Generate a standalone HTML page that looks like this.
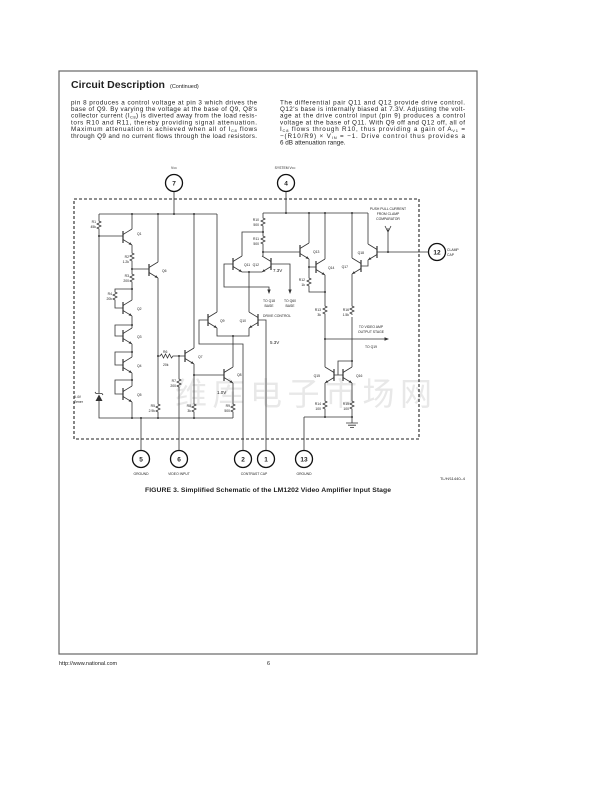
<!DOCTYPE html>
<html><head><meta charset="utf-8"><style>
html,body{margin:0;padding:0;background:#fff}
svg{display:block}
.t{font-family:"Liberation Sans",sans-serif;fill:#222}
.s{font-family:"Liberation Sans",sans-serif;font-size:3.4px;fill:#222}
.w{fill:none;stroke:#333;stroke-width:0.8}
.d{fill:#333}
</style></head><body>
<svg width="612" height="792" viewBox="0 0 612 792" xmlns="http://www.w3.org/2000/svg">
<defs>
<g id="npn" fill="none" stroke="#333" stroke-width="0.8">
<line x1="0" y1="-6" x2="0" y2="6" stroke-width="1.2"/>
<line x1="0" y1="-2.5" x2="9" y2="-8"/>
<line x1="0" y1="2.5" x2="9" y2="8"/>
<path d="M9,8 L5.6,7.4 L7.2,5.2 Z" fill="#333" stroke="none"/>
</g>
<path id="rv" d="M0,0 l0,1 l2,1 l-4,2 l4,2 l-4,2 l2,1 l0,1" fill="none" stroke="#333" stroke-width="0.8"/>
</defs>
<rect x="59" y="71" width="418" height="583" fill="none" stroke="#666" stroke-width="1.2"/>
<text class="t" x="71" y="88" font-size="10.5" font-weight="bold">Circuit Description</text>
<text class="t" x="170" y="88" font-size="5.5">(Continued)</text>
<g class="t" font-size="6.3">
<text x="71" y="104.3" textLength="186" lengthAdjust="spacing">pin 8 produces a control voltage at pin 3 which drives the</text>
<text x="71" y="111" textLength="186" lengthAdjust="spacing">base of Q9. By varying the voltage at the base of Q9, Q8's</text>
<text x="71" y="117.7" textLength="186" lengthAdjust="spacing">collector current (I<tspan font-size="4" dy="1">C8</tspan><tspan dy="-1">) is diverted away from the load resis-</tspan></text>
<text x="71" y="124.4" textLength="186" lengthAdjust="spacing">tors R10 and R11, thereby providing signal attenuation.</text>
<text x="71" y="131.1" textLength="186" lengthAdjust="spacing">Maximum attenuation is achieved when all of I<tspan font-size="4" dy="1">C8</tspan><tspan dy="-1"> flows</tspan></text>
<text x="71" y="137.8" textLength="186" lengthAdjust="spacing">through Q9 and no current flows through the load resistors.</text>
<text x="280" y="104.3" textLength="185" lengthAdjust="spacing">The differential pair Q11 and Q12 provide drive control.</text>
<text x="280" y="111" textLength="185" lengthAdjust="spacing">Q12's base is internally biased at 7.3V. Adjusting the volt-</text>
<text x="280" y="117.7" textLength="185" lengthAdjust="spacing">age at the drive control input (pin 9) produces a control</text>
<text x="280" y="124.4" textLength="185" lengthAdjust="spacing">voltage at the base of Q11. With Q9 off and Q12 off, all of</text>
<text x="280" y="131.1" textLength="185" lengthAdjust="spacing">I<tspan font-size="4" dy="1">C8</tspan><tspan dy="-1"> flows through R10, thus providing a gain of A</tspan><tspan font-size="4" dy="1">V1</tspan><tspan dy="-1"> =</tspan></text>
<text x="280" y="137.8" textLength="185" lengthAdjust="spacing">−(R10/R9) × V<tspan font-size="4" dy="1">IN</tspan><tspan dy="-1"> = −1. Drive control thus provides a</tspan></text>
<text x="280" y="144.5">6 dB attenuation range.</text>
</g>
<text x="175" y="405" font-family="'Noto Sans CJK SC',sans-serif" font-size="32" fill="#e8e8e8" textLength="257" lengthAdjust="spacing">维库电子市场网</text>
<rect x="74" y="199" width="345" height="240" fill="none" stroke="#222" stroke-width="1.1" stroke-dasharray="3,2"/>
<g fill="#fff" stroke="#111" stroke-width="1.3">
<circle cx="174" cy="183" r="8.5"/><circle cx="286" cy="183" r="8.5"/>
<circle cx="437" cy="252" r="8.5"/>
<circle cx="141" cy="459" r="8.5"/><circle cx="179" cy="459" r="8.5"/>
<circle cx="243" cy="459" r="8.5"/><circle cx="266" cy="459" r="8.5"/>
<circle cx="304" cy="459" r="8.5"/>
</g>
<g class="t" font-size="6.5" font-weight="bold" text-anchor="middle">
<text x="174" y="185.5">7</text><text x="286" y="185.5">4</text><text x="437" y="254.5">12</text>
<text x="141" y="461.5">5</text><text x="179" y="461.5">6</text><text x="243" y="461.5">2</text>
<text x="266" y="461.5">1</text><text x="304" y="461.5">13</text>
</g>
<g class="s" text-anchor="middle">
<text x="174" y="169">V<tspan font-size="2.5">CC</tspan></text>
<text x="285" y="169">SYSTEM V<tspan font-size="2.5">CC</tspan></text>
<text x="141" y="475">GROUND</text><text x="179" y="475">VIDEO INPUT</text>
<text x="254" y="475">CONTRAST CAP</text><text x="304" y="475">GROUND</text>
<text x="388" y="210">PUSH PULL CURRENT</text><text x="388" y="215">FROM CLAMP</text><text x="388" y="220">COMPARATOR</text>
<text x="269" y="302">TO Q18</text><text x="269" y="307">BASE</text>
<text x="290" y="302">TO Q60</text><text x="290" y="307">BASE</text>
<text x="277" y="317">DRIVE CONTROL</text>
<text x="371" y="328">TO VIDEO AMP</text><text x="371" y="333">OUTPUT STAGE</text>
<text x="371" y="348">TO Q19</text>
</g>
<g class="s" text-anchor="start">
<text x="447" y="251">CLAMP</text><text x="447" y="256">CAP</text>
<text x="270" y="344" font-size="4.5">5.3V</text>
<text x="273" y="272" font-size="4.5">7.3V</text>
<text x="217" y="394" font-size="4.5">1.0V</text>
<text x="137" y="235">Q1</text><text x="137" y="310">Q2</text><text x="137" y="338">Q3</text>
<text x="137" y="367">Q4</text><text x="137" y="396">Q5</text><text x="162" y="272">Q6</text>
<text x="198" y="358">Q7</text><text x="237" y="376">Q8</text><text x="220" y="322">Q9</text>
<text x="244" y="266">Q11</text><text x="313" y="253">Q13</text><text x="328" y="269">Q14</text>
<text x="356" y="377">Q16</text>
<text x="74" y="398">5.4V</text><text x="74" y="403">Zener</text>
<text x="163" y="353">R6</text><text x="163" y="366">20k</text>
</g>
<g class="s" text-anchor="end">
<text x="96" y="223">R1</text><text x="96" y="228">45k</text>
<text x="129" y="258">R2</text><text x="129" y="263">1.2k</text>
<text x="129" y="277">R3</text><text x="129" y="282">200</text>
<text x="112" y="295">R4</text><text x="112" y="300">20k</text>
<text x="155" y="407">R5</text><text x="155" y="412">2.9k</text>
<text x="176" y="382">R7</text><text x="176" y="387">200</text>
<text x="191" y="407">R8</text><text x="191" y="412">3k</text>
<text x="230" y="407">R9</text><text x="230" y="412">500</text>
<text x="246" y="322">Q10</text><text x="259" y="266">Q12</text>
<text x="259" y="221">R10</text><text x="259" y="226">500</text>
<text x="259" y="240">R11</text><text x="259" y="245">500</text>
<text x="305" y="281">R12</text><text x="305" y="286">1k</text>
<text x="321" y="311">R13</text><text x="321" y="316">3k</text>
<text x="349" y="311">R16</text><text x="349" y="316">1.5k</text>
<text x="321" y="405">R14</text><text x="321" y="410">100</text>
<text x="349" y="405">R15</text><text x="349" y="410">100</text>
<text x="320" y="377">Q15</text><text x="348" y="268">Q17</text><text x="364" y="254">Q18</text>
</g>
<g class="w">
<path d="M99,214 H217 M174,192 V214"/>
<path d="M99,214 V220 M99,230 V393 M99,401 V418 H233"/>
<path d="M99,236 H123"/>
<path d="M132,229 V214 M132,245 V252 M132,262 V273 M132,283 V300"/>
<path d="M132,269 H149"/>
<path d="M132,289 H115 V291 M115,301 V308 H123"/>
<path d="M132,316 V328 M132,325 H115 V336 H123"/>
<path d="M132,344 V357 M132,352 H115 V365 H123"/>
<path d="M132,373 V386 M132,380 H115 V394 H123 M132,402 V418"/>
<path d="M158,262 V214 M158,278 V403 M158,413 V418"/>
<path d="M158,356 H160 L161.5,354 L163.5,358 L165.5,354 L167.5,358 L169.5,354 L171.5,358 L173,356 H185 M179,356 V378 M179,388 V450"/>
<path d="M194,348 V214 M194,364 V403 M194,413 V418 M194,375 H224"/>
<path d="M233,367 V336 M233,383 V403 M233,413 V418"/>
<path d="M217,312 V214 M217,328 V336 H249 V328 M249,312 V272"/>
<path d="M208,320 H199 V344 H243 V450 M258,320 H266 V450"/>
<path d="M141,418 V450"/>
<path d="M263,213 H368 M286,192 V213"/>
<path d="M263,213 V217 M263,227 V235 M263,245 V256 M263,232 H242 V256 M263,252 H300"/>
<path d="M242,272 H262 M233,264 H224 V287 H269 V290 M271,264 H290 V290"/>
<path d="M309,243 V213 M309,259 V277 M309,287 V292 H325 M309,267 H316"/>
<path d="M325,259 V213 M325,275 V305 M325,315 V367 M325,339 H386"/>
<path d="M325,383 V400 M325,410 V417 M304,417 H352 M304,417 V450"/>
<path d="M334,375 H343 M338,375 V361 H352"/>
<path d="M352,367 V317 M352,305 V274 M352,258 V213 M352,383 V400 M352,410 V423"/>
<path d="M346,423 H358 M348,425.2 H356 M350,427.4 H354"/>
<path d="M368,244 V213 M368,260 V266 H361"/>
<path d="M377,252 H428.5 M388,252 V228 M388,232 L385,226 M388,232 L391,226"/>
</g>
<g class="d">
<path d="M269,294 L267.3,289.5 L270.7,289.5 Z"/>
<path d="M290,294 L288.3,289.5 L291.7,289.5 Z"/>
<path d="M389,339 L384.5,337.3 L384.5,340.7 Z"/>
<path d="M95.5,401 L102.5,401 L99,394.5 Z"/>
</g>
<path d="M95,392 L96,393.5 H102 L103,395" fill="none" stroke="#333" stroke-width="0.8"/>
<use href="#rv" x="99" y="220"/>
<use href="#rv" x="132" y="252"/>
<use href="#rv" x="132" y="273"/>
<use href="#rv" x="115" y="291"/>
<use href="#rv" x="158" y="403"/>
<use href="#rv" x="179" y="378"/>
<use href="#rv" x="194" y="403"/>
<use href="#rv" x="233" y="403"/>
<use href="#rv" x="263" y="217"/>
<use href="#rv" x="263" y="235"/>
<use href="#rv" x="309" y="277"/>
<use href="#rv" x="325" y="305"/>
<use href="#rv" x="352" y="305"/>
<use href="#rv" x="325" y="400"/>
<use href="#rv" x="352" y="400"/>
<use href="#npn" transform="translate(123,237)"/>
<use href="#npn" transform="translate(149,270)"/>
<use href="#npn" transform="translate(123,308)"/>
<use href="#npn" transform="translate(123,336)"/>
<use href="#npn" transform="translate(123,365)"/>
<use href="#npn" transform="translate(123,394)"/>
<use href="#npn" transform="translate(185,356)"/>
<use href="#npn" transform="translate(224,375)"/>
<use href="#npn" transform="translate(208,320)"/>
<use href="#npn" transform="translate(258,320) scale(-1,1)"/>
<use href="#npn" transform="translate(233,264)"/>
<use href="#npn" transform="translate(271,264) scale(-1,1)"/>
<use href="#npn" transform="translate(300,251)"/>
<use href="#npn" transform="translate(316,267)"/>
<use href="#npn" transform="translate(334,375) scale(-1,1)"/>
<use href="#npn" transform="translate(343,375)"/>
<use href="#npn" transform="translate(361,266) scale(-1,1)"/>
<use href="#npn" transform="translate(377,252) scale(-1,1)"/>
<g class="d">
<circle cx="132" cy="214" r="1"/><circle cx="158" cy="214" r="1"/><circle cx="174" cy="214" r="1"/><circle cx="194" cy="214" r="1"/>
<circle cx="99" cy="236" r="1"/><circle cx="132" cy="269" r="1"/><circle cx="132" cy="289" r="1"/>
<circle cx="132" cy="325" r="1"/><circle cx="132" cy="352" r="1"/><circle cx="132" cy="380" r="1"/>
<circle cx="132" cy="418" r="1"/><circle cx="141" cy="418" r="1"/><circle cx="158" cy="418" r="1"/><circle cx="194" cy="418" r="1"/>
<circle cx="158" cy="356" r="1"/><circle cx="179" cy="356" r="1"/><circle cx="194" cy="375" r="1"/>
<circle cx="233" cy="336" r="1"/><circle cx="249" cy="272" r="1"/>
<circle cx="286" cy="213" r="1"/><circle cx="309" cy="213" r="1"/><circle cx="325" cy="213" r="1"/><circle cx="352" cy="213" r="1"/>
<circle cx="263" cy="232" r="1"/><circle cx="263" cy="252" r="1"/><circle cx="309" cy="267" r="1"/><circle cx="325" cy="292" r="1"/>
<circle cx="325" cy="339" r="1"/><circle cx="352" cy="361" r="1"/><circle cx="325" cy="417" r="1"/><circle cx="352" cy="417" r="1"/>
<circle cx="388" cy="252" r="1"/>
</g>
<text class="t" x="465" y="480" font-size="4" text-anchor="end">TL/H/11440–4</text>
<text class="t" x="268" y="492" font-size="6.8" font-weight="bold" text-anchor="middle" textLength="246" lengthAdjust="spacing">FIGURE 3. Simplified Schematic of the LM1202 Video Amplifier Input Stage</text>
<text class="t" x="59" y="665" font-size="5.5">http://www.national.com</text>
<text class="t" x="267" y="665" font-size="5.5">6</text>
</svg>
</body></html>
